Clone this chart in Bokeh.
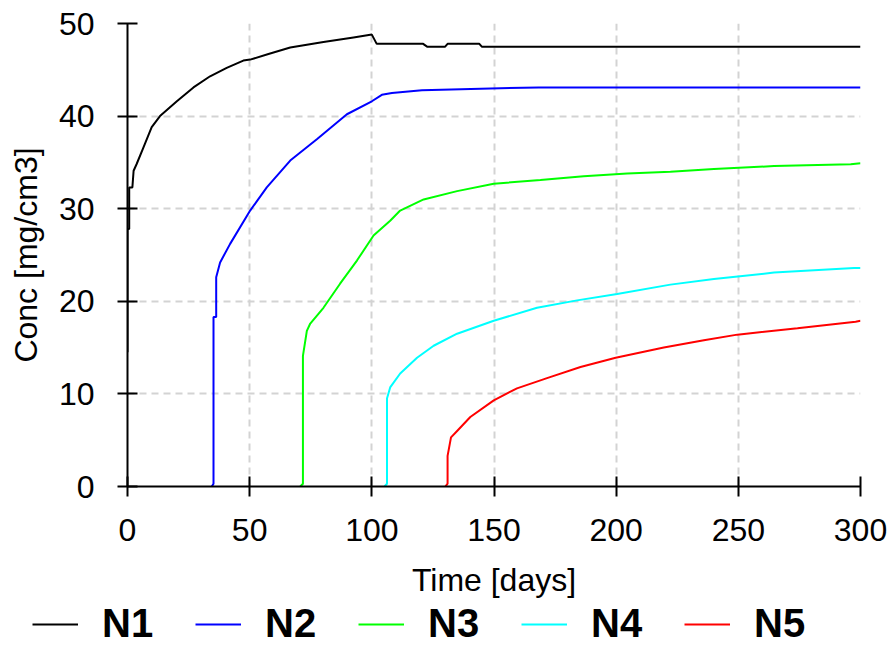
from bokeh.plotting import figure
from bokeh.models import Legend, LegendItem, FixedTicker, Range1d
from bokeh.embed import file_html
from bokeh.resources import INLINE

# ---- data ----
t1 = [0.0, 0.0, 0.7, 0.7, 2.0, 2.5, 3.7, 6.5, 9.9, 13.3, 20.2, 27.0, 33.8, 40.6, 47.4, 50.2,
      57.7, 66.6, 80.2, 92.5, 100.0, 102.0, 121.0, 122.6, 130.0, 131.0, 144.0, 145.0, 300.0]
c1 = [14.5, 27.8, 27.8, 32.3, 32.3, 34.1, 34.8, 36.6, 38.8, 40.0, 41.6, 43.1, 44.3, 45.2, 46.0, 46.1,
      46.7, 47.4, 48.0, 48.5, 48.8, 47.8, 47.8, 47.5, 47.5, 47.8, 47.8, 47.5, 47.5]

t2 = [34.5, 35.2, 35.2, 36.3, 36.3, 37.9, 42.0, 50.2, 57.0, 66.6, 77.5, 89.8, 100.0, 104.1,
      108.2, 120.5, 168.3, 300.0]
c2 = [0.0, 0.3, 18.3, 18.3, 22.6, 24.2, 26.2, 29.8, 32.3, 35.2, 37.5, 40.2, 41.6, 42.3,
      42.5, 42.8, 43.1, 43.1]

t3 = [70.7, 71.8, 71.8, 73.1, 73.4, 74.8, 80.2, 87.0, 93.9, 100.7, 107.5, 111.6, 121.2, 134.9,
      149.9, 169.0, 186.7, 204.5, 222.2, 240.0, 264.6, 296.0, 300.0]
c3 = [0.0, 0.3, 14.1, 16.3, 16.8, 17.6, 19.3, 21.9, 24.4, 27.1, 28.7, 29.8, 31.0, 31.9,
      32.7, 33.1, 33.5, 33.8, 34.0, 34.3, 34.6, 34.8, 34.9]

t4 = [105.2, 106.2, 106.2, 107.5, 111.6, 118.5, 125.3, 134.9, 149.9, 167.6, 184.0, 200.4,
      222.2, 240.0, 264.6, 297.4, 300.0]
c4 = [0.0, 0.3, 9.5, 10.7, 12.2, 13.9, 15.2, 16.5, 17.9, 19.3, 20.1, 20.8,
      21.8, 22.4, 23.1, 23.6, 23.6]

t5 = [130.1, 131.0, 131.0, 132.4, 134.9, 140.3, 149.9, 159.4, 171.7, 185.4, 199.8, 219.5,
      235.9, 249.6, 274.2, 298.0, 300.0]
c5 = [0.0, 0.3, 3.3, 5.3, 6.0, 7.5, 9.3, 10.6, 11.7, 12.9, 13.9, 15.0,
      15.8, 16.4, 17.1, 17.8, 17.9]

names = ["N1", "N2", "N3", "N4", "N5"]
colors = ["#000000", "#0000ff", "#00ff00", "#00ffff", "#ff0000"]
x_ticks = [0, 50, 100, 150, 200, 250, 300]
y_ticks = [0, 10, 20, 30, 40, 50]

FONT = "Liberation Sans"
series_t = [t1, t2, t3, t4, t5]
series_c = [c1, c2, c3, c4, c5]

p = figure(width=887, height=600, x_range=(0, 300), y_range=(0, 50),
           output_backend="svg", toolbar_location=None,
           min_border_left=127, min_border_right=27, min_border_top=23, min_border_bottom=114)
p.outline_line_color = None
p.background_fill_color = "white"
p.border_fill_color = "white"

for t, c, col in zip(series_t, series_c, colors):
    p.line(t, c, line_color=col, line_width=2)

for ax in (p.xaxis[0], p.yaxis[0]):
    ax.axis_line_color = "black"
    ax.axis_line_width = 2
    ax.major_tick_line_color = "black"
    ax.major_tick_line_width = 2
    ax.major_tick_in = 10
    ax.major_tick_out = 10
    ax.minor_tick_line_color = None
    ax.major_label_text_font = FONT
    ax.major_label_text_font_size = "32px"
    ax.major_label_text_color = "black"
    ax.axis_label_text_font = FONT
    ax.axis_label_text_font_size = "32px"
    ax.axis_label_text_font_style = "normal"
    ax.axis_label_text_color = "black"

p.xaxis.ticker = FixedTicker(ticks=x_ticks)
p.yaxis.ticker = FixedTicker(ticks=y_ticks)
p.xaxis.axis_label = "Time [days]"
p.yaxis.axis_label = "Conc [mg/cm3]"
p.xaxis.major_label_standoff = 22
p.yaxis.major_label_standoff = 23
p.xaxis.axis_label_standoff = 18
p.yaxis.axis_label_standoff = 12

for g in (p.xgrid[0], p.ygrid[0]):
    g.grid_line_color = "#d3d3d3"
    g.grid_line_width = 2
    g.grid_line_dash = "7 5"
p.xgrid.ticker = FixedTicker(ticks=x_ticks)
p.ygrid.ticker = FixedTicker(ticks=y_ticks)

# ---- legend strip below the chart (separate root, no frame alignment) ----
lg = figure(width=887, height=46, x_range=Range1d(0, 1), y_range=Range1d(0, 1),
            x_axis_type=None, y_axis_type=None, output_backend="svg", toolbar_location=None,
            min_border_left=0, min_border_right=0, min_border_top=0, min_border_bottom=0)
lg.outline_line_color = None
lg.background_fill_color = "white"
lg.border_fill_color = "white"
items = []
for n, t, c, col in zip(names, series_t, series_c, colors):
    # single-point line (draws nothing in the strip) just to carry the legend swatch
    r = lg.line(x=[t[0]], y=[c[0]], line_color=col, line_width=2)
    items.append(LegendItem(label=n, renderers=[r]))

legend = Legend(items=items, orientation="horizontal", location=(32, 0))
legend.label_text_font = FONT
legend.label_text_font_size = "40px"
legend.label_text_font_style = "bold"
legend.label_text_color = "black"
legend.glyph_width = 46
legend.glyph_height = 44
legend.label_height = 44
legend.label_standoff = 24
legend.label_width = 60
legend.spacing = 33
legend.padding = 0
legend.margin = 0
legend.border_line_color = None
legend.background_fill_alpha = 0
lg.add_layout(legend, "center")

open("out.html", "w").write(file_html([p, lg], INLINE))
